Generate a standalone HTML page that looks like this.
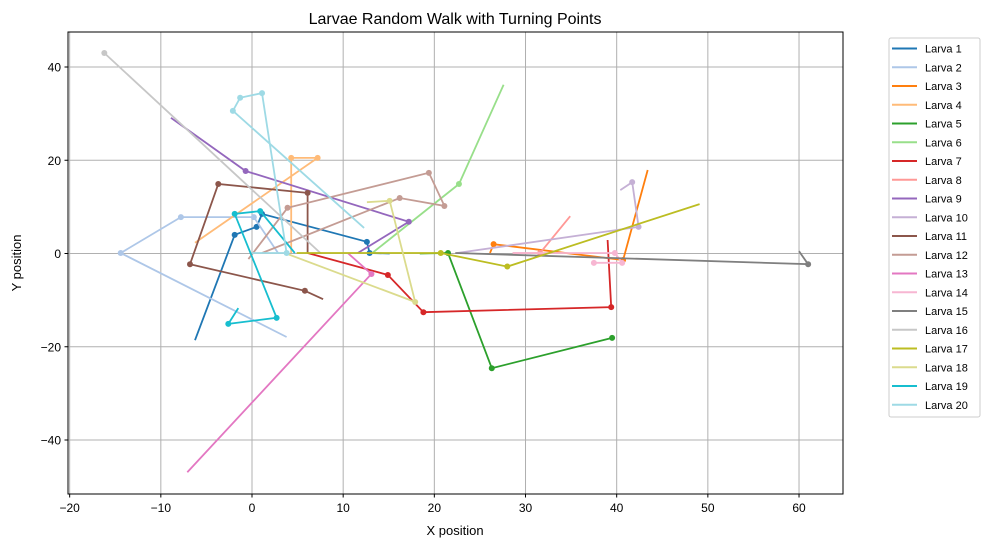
<!DOCTYPE html>
<html><head><meta charset="utf-8"><style>
body{margin:0;background:#fff}
svg{font-family:"Liberation Sans","DejaVu Sans",sans-serif}
</style></head><body>
<svg id="chart" width="990" height="547" viewBox="0 0 990 547">
<rect width="990" height="547" fill="#fff"/>
<text x="455" y="24" text-anchor="middle" font-size="16">Larvae Random Walk with Turning Points</text>
<g id="grid"></g>
<g id="series"></g>
<rect x="68" y="32" width="775" height="462" fill="none" stroke="#000" stroke-width="1"/>
<g id="ticks"></g>
<text x="455" y="535" text-anchor="middle" font-size="13">X position</text>
<text x="21" y="263" text-anchor="middle" font-size="13" transform="rotate(-90 21 263)">Y position</text>
<g id="legend"><rect x="889" y="38" width="91" height="379" rx="2" fill="#fff" stroke="#ccc"/></g>
</svg>
<script>
const xTicks=[-20,-10,0,10,20,30,40,50,60];
const yTicks=[-40,-20,0,20,40];
const names=["Larva 1","Larva 2","Larva 3","Larva 4","Larva 5","Larva 6","Larva 7","Larva 8","Larva 9","Larva 10","Larva 11","Larva 12","Larva 13","Larva 14","Larva 15","Larva 16","Larva 17","Larva 18","Larva 19","Larva 20"];
const colors=["#1f77b4","#aec7e8","#ff7f0e","#ffbb78","#2ca02c","#98df8a","#d62728","#ff9896","#9467bd","#c5b0d5","#8c564b","#c49c94","#e377c2","#f7b6d2","#7f7f7f","#c7c7c7","#bcbd22","#dbdb8d","#17becf","#9edae5"];
const xs1=[-6.25,-1.9,0.5,1.1,12.6,12.9,15.1], ys1=[-18.6,4.0,5.7,8.5,2.5,0.1,0];
const xs2=[3.8,-14.4,-7.8,0.2,2.9], ys2=[-17.9,0.1,7.8,7.8,0];
const xs3=[26.1,26.5,40.7,43.4], ys3=[0.1,2.0,-1.4,17.9];
const xs4=[-6.25,7.2,4.3,4.3], ys4=[2.3,20.5,20.5,0.1];
const xs5=[18.4,21.5,26.3,39.5,39.5], ys5=[0,0.1,-24.6,-18.1,-18.1];
const xs6=[13.2,22.7,27.6], ys6=[0.1,14.9,36.2];
const xs7=[6.1,14.9,18.8,39.4,39.0], ys7=[0.1,-4.6,-12.6,-11.5,2.9];
const xs8=[28.6,31.6,34.9], ys8=[0.1,0.1,8.0];
const xs9=[-8.9,-0.7,17.2,11.6], ys9=[29.1,17.7,6.8,0.1];
const xs10=[22.5,42.4,41.7,40.4], ys10=[0.1,5.7,15.3,13.6];
const xs11=[6.1,6.1,-3.7,-6.8,5.8,7.8], ys11=[0.1,13.0,14.9,-2.3,-8.0,-9.8];
const xs12=[-0.4,3.9,19.4,21.1,16.2,1.1], ys12=[-1.2,9.8,17.3,10.2,11.9,0.1];
const xs13=[-7.1,13.1,10.5], ys13=[-46.9,-4.4,0.1];
const xs14=[28.6,39.8,40.6,37.5,37.5], ys14=[0.1,0.1,-2.0,-2.0,-2.0];
const xs15=[22.3,61.0,60.0], ys15=[0.1,-2.3,0.5];
const xs16=[7.5,-16.2,-16.2], ys16=[0.1,43.0,43.0];
const xs17=[4.9,20.7,28.0,49.1], ys17=[0.1,0.1,-2.8,10.6];
const xs18=[12.6,15.1,17.9,3.6], ys18=[11.0,11.3,-10.4,0.1];
const xs19=[4.7,0.9,-1.9,2.7,-2.6,-1.5], ys19=[0.1,9.1,8.5,-13.8,-15.1,-11.7];
const xs20=[12.3,-2.1,-1.3,1.1,3.8,0], ys20=[5.5,30.6,33.4,34.4,0.1,0.1];
const XS=[xs1,xs2,xs3,xs4,xs5,xs6,xs7,xs8,xs9,xs10,xs11,xs12,xs13,xs14,xs15,xs16,xs17,xs18,xs19,xs20];
const YS=[ys1,ys2,ys3,ys4,ys5,ys6,ys7,ys8,ys9,ys10,ys11,ys12,ys13,ys14,ys15,ys16,ys17,ys18,ys19,ys20];
const NS="http://www.w3.org/2000/svg";
function sx(v){return 252+v*9.117;}
function sy(v){return 253.5-v*4.6625;}
function mk(tag,attrs,parent){const e=document.createElementNS(NS,tag);for(const k in attrs)e.setAttribute(k,attrs[k]);parent.appendChild(e);return e;}
const grid=document.getElementById('grid'),ticks=document.getElementById('ticks'),ser=document.getElementById('series'),leg=document.getElementById('legend');
xTicks.forEach(t=>{const x=sx(t);
 const g=mk('line',{x1:x,x2:x,y1:32,y2:494,stroke:'#b0b0b0','stroke-width':1},grid);
 
 
 const l=mk('line',{x1:x,x2:x,y1:494,y2:497.5,stroke:'#000'},ticks);
 
 
 const tx=mk('text',{x:x,y:512,'text-anchor':'middle','font-size':12},ticks);tx.textContent=(t<0?'\u2212'+(-t):t);
 
 
});
yTicks.forEach(t=>{const y=sy(t);
 const g=mk('line',{x1:68,x2:843,y1:y,y2:y,stroke:'#b0b0b0','stroke-width':1},grid);
 
 
 const l=mk('line',{x1:64.5,x2:68,y1:y,y2:y,stroke:'#000'},ticks);
 
 
 const tx=mk('text',{x:61,y:y+4.5,'text-anchor':'end','font-size':12},ticks);tx.textContent=(t<0?'\u2212'+(-t):t);
 
 
});
XS.forEach((xs,i)=>{const ys=YS[i];const g=mk('g',{},ser);
 
 
 const pts=xs.map((x,j)=>sx(x).toFixed(1)+','+sy(ys[j]).toFixed(1)).join(' ');
 const pl=mk('polyline',{points:pts,fill:'none',stroke:colors[i],'stroke-width':1.8},g);
 
 
 for(let j=1;j<xs.length-1;j++){const c=mk('circle',{cx:sx(xs[j]),cy:sy(ys[j]),r:3,fill:colors[i]},g);
  
  }
 const y=48.5+i*18.75;
 const ll=mk('line',{x1:892,x2:917,y1:y,y2:y,stroke:colors[i],'stroke-width':2},leg);
 
 
 const lt=mk('text',{x:925,y:y+4,'font-size':11},leg);lt.textContent=names[i];
 
 
});
</script>
</body></html>
